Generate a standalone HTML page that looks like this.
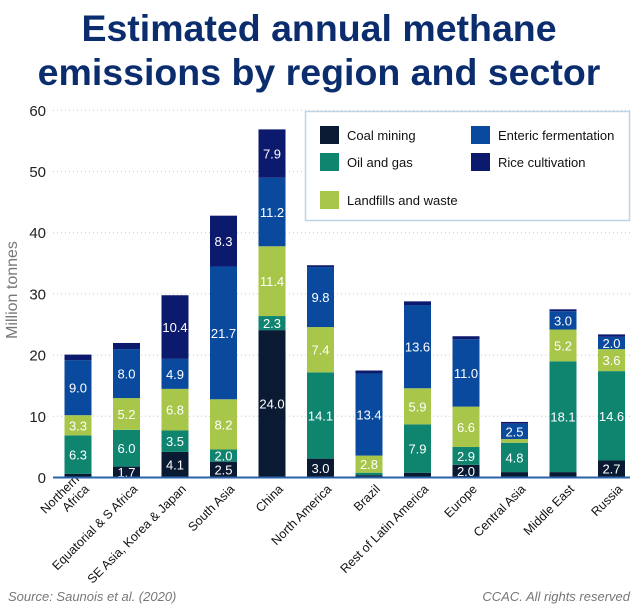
<!DOCTYPE html>
<html><head><meta charset="utf-8"><style>
body{margin:0;background:#fff;width:637px;height:608px;overflow:hidden;font-family:"Liberation Sans",Arial,sans-serif}
</style></head><body>
<svg id="chart" width="637" height="608" xmlns="http://www.w3.org/2000/svg" font-family="Liberation Sans, Arial, sans-serif">
<text x="319" y="41" text-anchor="middle" font-size="37.5" font-weight="bold" fill="#0b2d6e">Estimated annual methane</text>
<text x="319" y="85" text-anchor="middle" font-size="37.5" font-weight="bold" fill="#0b2d6e">emissions by region and sector</text>
<text transform="translate(17,290) rotate(-90)" text-anchor="middle" font-size="16" fill="#777">Million tonnes</text>
<g id="grid"></g><g id="bars"></g><g id="xlabels"></g>
<line x1="53" y1="477.5" x2="630" y2="477.5" stroke="#2a62a8" stroke-width="2"/>
<g>
<rect x="305.5" y="111.5" width="324" height="109" fill="#fff" stroke="#bcd4e6" stroke-width="1.5"/>
<rect x="320" y="126" width="19" height="18" fill="#0b1a33"/><text x="347" y="140" font-size="13" fill="#111">Coal mining</text>
<rect x="320" y="153" width="19" height="18" fill="#0f8570"/><text x="347" y="167" font-size="13" fill="#111">Oil and gas</text>
<rect x="320" y="191" width="19" height="18" fill="#a8c64a"/><text x="347" y="205" font-size="13" fill="#111">Landfills and waste</text>
<rect x="471" y="126" width="19" height="18" fill="#0a4a9e"/><text x="498" y="140" font-size="13" fill="#111">Enteric fermentation</text>
<rect x="471" y="153" width="19" height="18" fill="#0c1a6e"/><text x="498" y="167" font-size="13" fill="#111">Rice cultivation</text>
</g>
<text x="8" y="601" font-size="13" font-style="italic" fill="#777">Source: Saunois et al. (2020)</text>
<text x="630" y="601" text-anchor="end" font-size="13" font-style="italic" fill="#777">CCAC. All rights reserved</text>
</svg>
<script>
const regions=["Northern Africa","Equatorial & S Africa","SE Asia, Korea & Japan","South Asia","China","North America","Brazil","Rest of Latin America","Europe","Central Asia","Middle East","Russia"];
const coal=[0.5,1.7,4.1,2.5,24.0,3.0,0.3,0.7,2.0,0.8,0.8,2.7];
const oilGas=[6.3,6.0,3.5,2.0,2.3,14.1,0.4,7.9,2.9,4.8,18.1,14.6];
const landfill=[3.3,5.2,6.8,8.2,11.4,7.4,2.8,5.9,6.6,0.6,5.2,3.6];
const enteric=[9.0,8.0,4.9,21.7,11.2,9.8,13.4,13.6,11.0,2.5,3.0,2.0];
const rice=[0.9,1.0,10.4,8.3,7.9,0.3,0.5,0.6,0.5,0.3,0.3,0.4];
const yTicks=[0,10,20,30,40,50,60];
const NS="http://www.w3.org/2000/svg";
const y0=477,pxPer=6.12;
function yScale(v){return y0-v*pxPer;}
function xCenter(i){return 78+i*48.5;}
const grid=document.getElementById('grid'),bars=document.getElementById('bars'),xl=document.getElementById('xlabels');
function mk(tag,attrs,parent){const e=document.createElementNS(NS,tag);for(const k in attrs)e.setAttribute(k,attrs[k]);parent.appendChild(e);return e;}
yTicks.forEach(t=>{
  const l=mk('line',{x1:53,x2:630,y1:yScale(t)+0.5,y2:yScale(t)+0.5,stroke:'#c8c8c8','stroke-dasharray':'1 3'},grid);
  
  
  const tx=mk('text',{x:46,y:yScale(t)+6,'text-anchor':'end','font-size':'15',fill:'#222'},grid);
  tx.textContent=t;
  
  
});
const series=[[coal,'#0b1a33','coal'],[oilGas,'#0f8570','oil-gas'],[landfill,'#a8c64a','landfill'],[enteric,'#0a4a9e','enteric'],[rice,'#0c1a6e','rice']];
regions.forEach((r,i)=>{
  let cum=0;const cx=xCenter(i);
  series.forEach(([arr,col,nm])=>{
    const v=arr[i];const top=yScale(cum+v),bot=yScale(cum);
    const rc=mk('rect',{x:cx-13.5,y:top,width:27,height:bot-top,fill:col},bars);
    
    
    if(v>=1.5){
      const t=mk('text',{x:cx,y:(top+bot)/2+5,'text-anchor':'middle','font-size':'13',fill:'#fff'},bars);
      t.textContent=v.toFixed(1);
      
      
    }
    cum+=v;
  });
  const g=mk('g',{transform:`translate(${cx+9},487) rotate(-45)`},xl);
  
  
  const lines=i===0?["Northern","Africa"]:[r];
  lines.forEach((ln,k)=>{
    const t=mk('text',{x:0,y:(k-lines.length+1)*14+4,'text-anchor':'end','font-size':'12.5',fill:'#111'},g);
    t.textContent=ln;
  });
});
</script>
</body></html>
